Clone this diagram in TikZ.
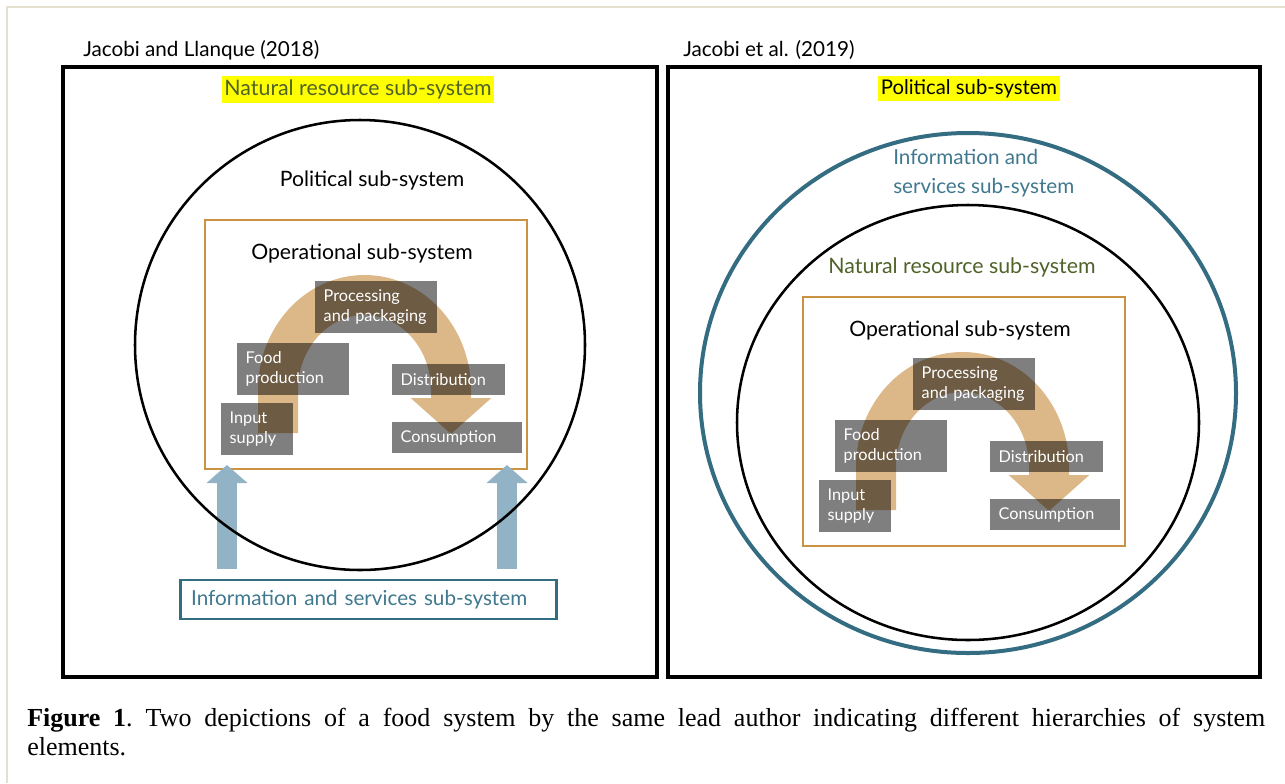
\documentclass[tikz,border=0pt]{standalone}
\usepackage{fontspec}
\setmainfont{Lato}
\newfontfamily\capfont{Liberation Serif}
\usetikzlibrary{arrows.meta}

\definecolor{hilite}{RGB}{255,255,0}
\definecolor{natgreen}{RGB}{79,98,40}
\definecolor{infoblue}{RGB}{52,108,130}
\definecolor{infotext}{RGB}{64,120,142}
\definecolor{opframe}{RGB}{204,146,68}
\definecolor{arctan}{RGB}{220,183,136}
\definecolor{upblue}{RGB}{146,178,197}
\definecolor{pageline}{RGB}{228,224,208}

% Операционная подсистема: рамка, дуга потока и этапы
\tikzset{
    opsys/.pic={
        \node[opbox] (box) at (161,124.5) {};
        \node[label, font=\fontsize{15.9}{20}\selectfont] (title) at (157,34) {Operational sub-system};
        \draw[flow] (73,213) -- (73,170) arc[start angle=180, end angle=360, x radius=86.5, y radius=95] -- (246,214);
        \node[stage, minimum height=39pt, text width=78.5pt] (proc) at (171,87) {Processing\\and packaging};
        \node[stage, minimum height=39pt, text width=71pt] (food) at (88,149) {Food\\production};
        \node[stage, minimum height=23.25pt, text width=71.75pt] (dist) at (243.5,159.5) {Distribution};
        \node[stage, minimum height=39pt, text width=41pt] (input) at (52,209) {Input\\supply};
        \node[stage, minimum height=23.25pt, text width=84.5pt] (cons) at (252,217.5) {Consumption};
    }
}

\begin{document}
\begin{tikzpicture}[x=0.75pt, y=-0.75pt,
        panel/.style={draw=black, line width=3pt},
        label/.style={inner sep=0pt, font=\fontsize{16}{20}\selectfont},
        head/.style={inner sep=0pt, anchor=west, font=\fontsize{15.5}{18}\selectfont},
        marked/.style={label, fill=hilite, inner xsep=2pt, inner ysep=2.5pt},
        opbox/.style={draw=opframe, line width=1.9pt, minimum width=241.5pt, minimum height=186.75pt, inner sep=0pt},
        flow/.style={draw=arctan, line width=30pt, -{Triangle[length=27pt, width=59pt]}},
        stage/.style={fill=black, fill opacity=0.5, text opacity=1, text=white, align=left,
            inner xsep=6.5pt, inner ysep=0pt, font=\fontsize{12.2}{15}\selectfont,
            execute at begin node={\hyphenpenalty=10000}},
        uparrow/.style={draw=upblue, line width=15pt, -{Triangle[length=13.5pt, width=30pt]}},
        ring/.style={draw=black, line width=1.9pt},
    ]
    \useasboundingbox (0,0) rectangle (1285,783);
    \draw[pageline, line width=1.5pt] (6.5,783) -- (6.5,7) -- (1285,7);

    % Левая панель
    \node[head] (headL) at (83,50) {Jacobi and Llanque (2018)};
    \draw[panel] (63,67) rectangle (657,677);
    \node[marked, text=natgreen] (natL) at (358,89.5) {Natural resource sub-system};
    \node[label, font=\fontsize{15.9}{20}\selectfont] (polL) at (372,181) {Political sub-system};
    \pic (L) at (205,220) {opsys};
    \coordinate (aL0) at (227,569);
    \coordinate (aL1) at (227,465);
    \coordinate (bL0) at (507,569);
    \coordinate (bL1) at (507,465);
    \draw[uparrow] (aL0) -- (aL1);
    \draw[uparrow] (bL0) -- (bL1);
    \draw[ring] (360,345) circle[radius=225];
    \node[label, font=\fontsize{15.5}{20}\selectfont, draw=infoblue, line width=2.2pt, text=infotext,
        align=left, text width=266pt, minimum height=29.25pt, inner xsep=8pt] (infoL) at (368.5,599.5)
        {Information and services sub-system};

    % Правая панель
    \node[head] (headR) at (683,50) {Jacobi et al. (2019)};
    \draw[panel] (668,67) rectangle (1260,677);
    \node[marked, font=\fontsize{15.2}{20}\selectfont] (polR) at (969,88.5) {Political sub-system};
    \draw[draw=infoblue, line width=3pt] (968,393) ellipse[x radius=268, y radius=260];
    \node[label, font=\fontsize{15.5}{21.75}\selectfont, text=infotext, align=left, anchor=west] (infoR)
        at (893,173) {Information and\\services sub-system};
    \draw[ring] (968,422.5) ellipse[x radius=231, y radius=217.5];
    \node[label, text=natgreen] (natR) at (962,267) {Natural resource sub-system};
    \pic (R) at (803,297) {opsys};

    % Подпись
    \node[anchor=north west, inner sep=0pt, align=left, text width=928.5pt,
        font=\capfont\fontsize{19.5}{22}\selectfont] (caption) at (27,708)
        {\hbox to 928.5pt{\spaceskip=0.25em plus 1fil\relax\textbf{Figure 1}. Two depictions of a food system by the same lead author indicating different hierarchies of system}\\elements.};
\end{tikzpicture}
\end{document}
